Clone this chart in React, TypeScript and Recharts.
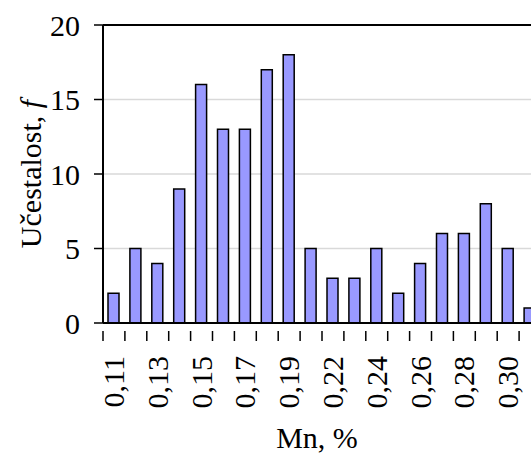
import React from "react";
import {
  BarChart,
  Bar,
  XAxis,
  YAxis,
  CartesianGrid,
  ReferenceLine,
} from "recharts";

const categories = [
  "0,11", "0,12", "0,13", "0,14", "0,15", "0,16", "0,17", "0,18", "0,19", "0,20",
  "0,22", "0,23", "0,24", "0,25", "0,26", "0,27", "0,28", "0,29", "0,30", "0,31",
];
const counts = [2, 5, 4, 9, 16, 13, 13, 17, 18, 5, 3, 3, 5, 2, 4, 6, 6, 8, 5, 1];
const yTicks = [0, 5, 10, 15, 20];

const data = categories.map((c, i) => ({ mn: c, f: counts[i] }));

const FONT = '"Liberation Serif", "Times New Roman", serif';

function XTick(props: any) {
  const { x, y, payload, index } = props;
  const half = payload?.offset ?? 11;
  const bx = x - half;
  const ty = y + 25;
  return (
    <g>
      <line x1={bx} y1={y} x2={bx} y2={y + 10} stroke="#000" strokeWidth={1.5} />
      {index % 2 === 0 && (
        <text
          x={x}
          y={ty}
          dy={10}
          transform={`rotate(-90, ${x}, ${ty})`}
          textAnchor="end"
          fontFamily={FONT}
          fontSize={30}
          fill="#000"
        >
          {payload.value}
        </text>
      )}
    </g>
  );
}

function YTitle(props: any) {
  const { viewBox } = props;
  const cx = 30;
  const cy = viewBox.y + viewBox.height / 2;
  return (
    <text
      x={cx}
      y={cy}
      transform={`rotate(-90, ${cx}, ${cy})`}
      textAnchor="middle"
      dominantBaseline="central"
      fontFamily={FONT}
      fontSize={30}
      fill="#000"
    >
      Učestalost, <tspan fontStyle="italic">f</tspan>
    </text>
  );
}

function XTitle(props: any) {
  const { viewBox } = props;
  return (
    <text
      x={viewBox.x + 214}
      y={437}
      textAnchor="middle"
      dominantBaseline="central"
      fontFamily={FONT}
      fontSize={30}
      fill="#000"
    >
      Mn, %
    </text>
  );
}

export default function App() {
  return (
    <div
      style={{
        position: "absolute",
        left: 0,
        top: 0,
        width: 531,
        height: 453,
        overflow: "hidden",
        background: "#fff",
      }}
    >
      <BarChart
        width={560}
        height={453}
        data={data}
        margin={{ top: 25, right: 19, left: 0, bottom: 0 }}
      >
        <CartesianGrid vertical={false} stroke="#d9d9d9" strokeWidth={1.5} />
        <XAxis
          dataKey="mn"
          interval={0}
          height={130}
          tickLine={false}
          axisLine={{ stroke: "#000", strokeWidth: 2 }}
          tick={<XTick />}
          label={<XTitle />}
        />
        <YAxis
          width={103}
          domain={[0, 20]}
          ticks={yTicks}
          tickSize={9}
          tickMargin={14}
          axisLine={{ stroke: "#000", strokeWidth: 2 }}
          tickLine={{ stroke: "#000", strokeWidth: 1.5 }}
          tick={{ fontFamily: FONT, fontSize: 30, fill: "#000" }}
          label={<YTitle />}
        />
        <ReferenceLine y={20} stroke="#000" strokeWidth={2} />
        <Bar
          dataKey="f"
          fill="#9999ff"
          stroke="#000"
          strokeWidth={1.5}
          barSize={11}
          isAnimationActive={false}
        />
      </BarChart>
    </div>
  );
}
